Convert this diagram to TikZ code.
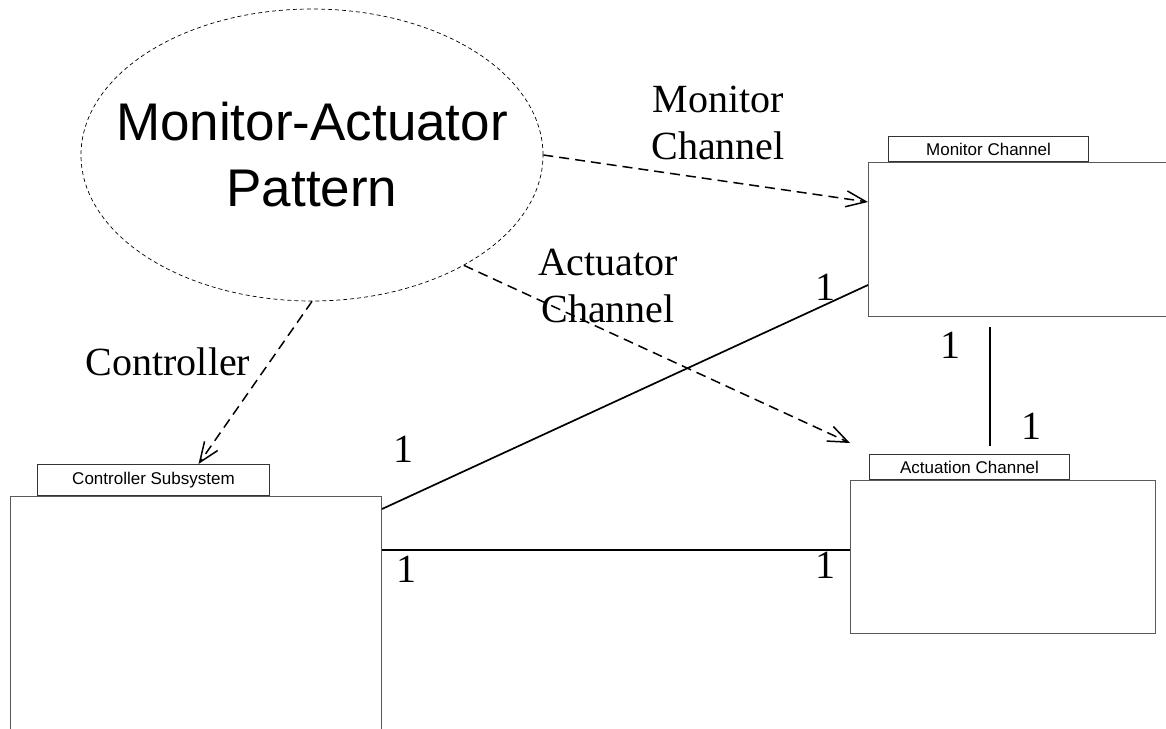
\documentclass[tikz,border=0pt]{standalone}
\usepackage{fontspec}
\setmainfont{Liberation Serif}
\setsansfont{Liberation Sans}
\usetikzlibrary{shapes.geometric,arrows.meta,calc}

\tikzset{
  classbox/.style={draw=black!65, line width=1pt, anchor=north west, inner sep=0pt},
  classtab/.style={draw=black!80, line width=1pt, anchor=south west, inner sep=0pt,
    font=\sffamily\fontsize{17}{20}\selectfont},
  dep/.style={dash pattern=on 10pt off 6pt, line width=1.5pt,
    -{Straight Barb[length=20pt,width=16pt]}},
  assoc/.style={line width=1.7pt},
  lbl/.style={font=\fontsize{40}{47}\selectfont, anchor=base, inner sep=0pt, align=center},
}

\begin{document}
\begin{tikzpicture}[x=1pt,y=-1pt]
      \useasboundingbox (0,0) rectangle (1166,728);
      % the pattern
      \node[ellipse, draw, dash pattern=on 4pt off 3pt, line width=0.7pt,
        minimum width=462pt, minimum height=292pt, inner sep=0pt] (pattern) at (312,155) {};
      \node[align=center, inner sep=0pt, font=\sffamily\fontsize{53}{66}\selectfont]
        (patname) at (pattern.center) {Monitor-Actuator\\Pattern};
      % classes
      \node[classbox, minimum width=302pt, minimum height=154pt] (monitor) at (868,162) {};
      \node[classtab, minimum width=200pt, minimum height=25pt] (montab) at (888,162) {Monitor Channel};
      \node[classbox, minimum width=305pt, minimum height=153pt] (actuation) at (850,480) {};
      \node[classtab, minimum width=200pt, minimum height=25pt] (acttab) at (869,480) {Actuation Channel};
      \node[classbox, minimum width=371pt, minimum height=240pt] (ctrl) at (10,496) {};
      \node[classtab, minimum width=232pt, minimum height=31pt] (ctrltab) at (37,496) {Controller Subsystem};
      % role names
      \node[lbl] (monrole) at (718,159) {Monitor\\Channel};
      \node[lbl] (actrole) at (608,322) {Actuator\\Channel};
      \node[lbl] (ctrlrole) at (168,375) {Controller};
      % dependencies
      \coordinate (actend) at (850,443);
      \draw[dep] (pattern.east) -- ([yshift=-40pt]monitor.north west);
      \draw[dep] (pattern.-36) -- (actend);
      \draw[dep] (pattern.south) -- ([xshift=45pt]ctrltab.north);
      % associations
      \begin{scope}[assoc]
        \draw ([yshift=-13pt]ctrl.north east) -- ([yshift=32pt]monitor.south west);
        \draw ([yshift=-54pt]ctrl.north east) coordinate (h) -- (h -| actuation.west);
        \draw ($(monitor.south west)+(122,10)$) -- ($(acttab.north west)+(121,-8)$);
      \end{scope}
      % multiplicities
      \node[lbl] (m1) at (825,300) {1};
      \node[lbl] (m2) at (950,358) {1};
      \node[lbl] (m3) at (1031,439) {1};
      \node[lbl] (m4) at (403,462) {1};
      \node[lbl] (m5) at (406,582) {1};
      \node[lbl] (m6) at (825,578) {1};
    \end{tikzpicture}
\end{document}
